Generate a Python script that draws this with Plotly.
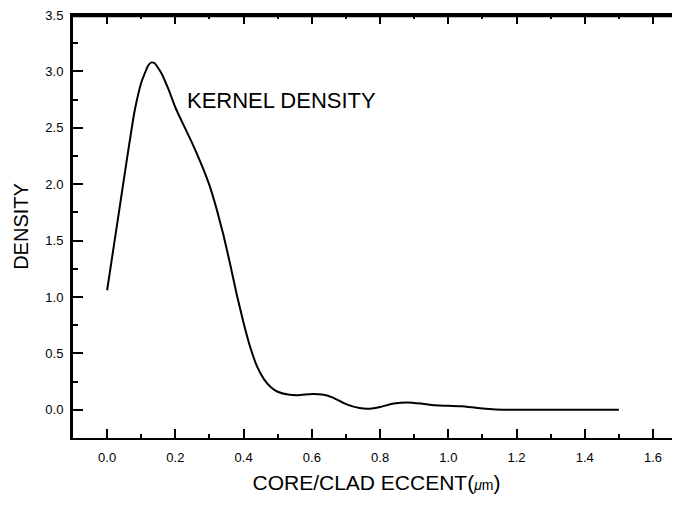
import plotly.graph_objects as go

# Kernel density estimate of core/clad eccentricity
ecc_um = [0.00, 0.02, 0.04, 0.06, 0.08, 0.10, 0.12, 0.13, 0.14, 0.16, 0.18, 0.20,
          0.22, 0.25, 0.28, 0.30, 0.32, 0.34, 0.36, 0.38, 0.40, 0.42, 0.44, 0.46,
          0.48, 0.50, 0.53, 0.56, 0.60, 0.63, 0.66, 0.70, 0.74, 0.77, 0.80, 0.84,
          0.88, 0.92, 0.96, 1.00, 1.04, 1.08, 1.12, 1.16, 1.20, 1.30, 1.40, 1.50]
density = [1.06, 1.46, 1.86, 2.26, 2.64, 2.90, 3.05, 3.08, 3.07, 2.98, 2.84, 2.68,
           2.55, 2.36, 2.15, 1.99, 1.79, 1.56, 1.30, 1.02, 0.77, 0.55, 0.38, 0.27,
           0.20, 0.16, 0.135, 0.13, 0.14, 0.135, 0.11, 0.05, 0.015, 0.01, 0.025, 0.055,
           0.065, 0.055, 0.04, 0.035, 0.032, 0.018, 0.006, 0.0, 0.0, 0.0, 0.0, 0.0]

x_ticks = [0.0, 0.2, 0.4, 0.6, 0.8, 1.0, 1.2, 1.4, 1.6]
y_ticks = [0.0, 0.5, 1.0, 1.5, 2.0, 2.5, 3.0, 3.5]

FONT = "Liberation Sans, Arial, Helvetica, sans-serif"

fig = go.Figure()
fig.add_trace(go.Scatter(
    x=ecc_um, y=density, mode="lines",
    line=dict(color="black", width=2, shape="spline", smoothing=0.4),
    showlegend=False, hoverinfo="skip",
))
# invisible trace to activate right-side tick axis
fig.add_trace(go.Scatter(x=[ecc_um[0]], y=[density[0]], yaxis="y2",
                         mode="markers", marker=dict(opacity=0),
                         showlegend=False, hoverinfo="skip"))

fig.add_annotation(
    x=0.229, y=2.74, xref="x", yref="y", text="KERNEL DENSITY",
    showarrow=False, xanchor="left", yanchor="middle",
    font=dict(family=FONT, size=22, color="black"),
)

# top frame line of the plot box
fig.add_shape(type="line", xref="paper", yref="paper", x0=-0.003, x1=1, y0=0.998, y1=0.998,
              line=dict(color="black", width=3), layer="above")

fig.update_layout(
    width=672, height=497,
    margin=dict(l=65, r=0, t=7, b=67),
    paper_bgcolor="white", plot_bgcolor="white",
    font=dict(family=FONT, color="black"),
    xaxis=dict(
        range=[-0.1, 1.679], tickvals=x_ticks,
        ticktext=[f"{v:.1f}" for v in x_ticks],
        ticks="inside", ticklen=9, tickwidth=2, tickcolor="black",
        minor=dict(dtick=0.1, tick0=0, ticks="inside", ticklen=4, tickwidth=2, tickcolor="black"),
        showline=True, linecolor="black", linewidth=2, mirror="ticks",
        showgrid=False, zeroline=False, automargin=False,
        tickfont=dict(family=FONT, size=13),
        ticklabelstandoff=6, ticklabeloverflow="allow",
        title=dict(text="CORE/CLAD ECCENT(<span style='font-size:14px'><i>μ</i>m</span>)",
                   font=dict(family=FONT, size=21), standoff=12),
    ),
    yaxis=dict(
        range=[-0.25, 3.5], tickvals=y_ticks,
        ticktext=[f"{v:.1f}" for v in y_ticks],
        ticks="inside", ticklen=10, tickwidth=2, tickcolor="black",
        minor=dict(dtick=0.25, tick0=0, ticks="inside", ticklen=5, tickwidth=2, tickcolor="black"),
        showline=True, linecolor="black", linewidth=3,
        showgrid=False, zeroline=False, automargin=False,
        tickfont=dict(family=FONT, size=13),
        ticklabelstandoff=4, ticklabeloverflow="allow",
        title=dict(text="DENSITY", font=dict(family=FONT, size=20), standoff=12),
    ),
    yaxis2=dict(
        overlaying="y", side="right", matches="y",
        tickvals=y_ticks, ticks="inside", ticklen=3, tickwidth=3, tickcolor="black",
        showticklabels=False, showline=False, showgrid=False, zeroline=False,
        automargin=False,
    ),
)

fig.write_html("out.html")
